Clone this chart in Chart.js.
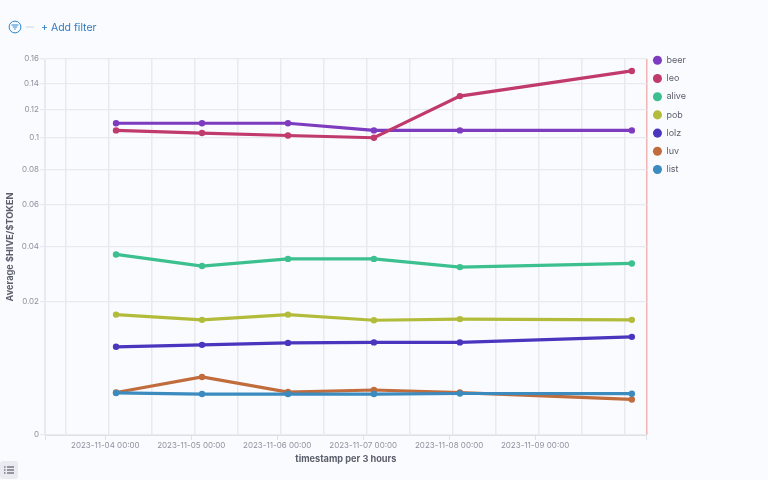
<!DOCTYPE html>
<html>
<head>
<meta charset="utf-8">
<script src="https://cdn.jsdelivr.net/npm/chart.js@4"></script>
<style>
  html, body { margin: 0; padding: 0; background: #fafbfe; }
  body { width: 768px; height: 480px; position: relative; overflow: hidden; font-family: Inter, sans-serif; }
  #wrap { position: absolute; left: 0; top: 0; width: 768px; height: 480px; }
  #filterIcon { position: absolute; left: 8px; top: 20px; }
  #dash { position: absolute; left: 26px; top: 26px; width: 8px; height: 2px; background: #e3e7ee; }
  #addFilter { position: absolute; left: 41px; top: 20px; font-size: 10.5px; line-height: 15px; color: #2d7cc0; }
  #listBtn { position: absolute; left: 0; top: 461px; width: 18px; height: 18px; background: #e9ebf0; border-radius: 3px; }
  #listBtn svg { position: absolute; left: 4px; top: 5px; }
</style>
</head>
<body>
<div id="wrap"><canvas id="myChart" width="768" height="480"></canvas></div>
<svg id="filterIcon" width="14" height="14" viewBox="0 0 14 14" fill="none" stroke="#2d86c9" stroke-width="1">
  <circle cx="7" cy="7" r="5.9"/>
  <path d="M3.5 5H10.5M4.8 7H9.2M6.2 9H7.8"/>
</svg>
<div id="dash"></div>
<div id="addFilter">+ Add filter</div>
<div id="listBtn">
  <svg width="10" height="8" viewBox="0 0 10 8" stroke="#3c4350" stroke-width="1">
    <path d="M0 1H1.5M3 1H10M0 4H1.5M3 4H10M0 7H1.5M3 7H10"/>
  </svg>
</div>
<script>
// one bucket per day, timestamps are UTC
var timestamps = ['2023-11-04T03:00Z', '2023-11-05T03:00Z', '2023-11-06T03:00Z', '2023-11-07T03:00Z', '2023-11-08T03:00Z', '2023-11-10T03:00Z'];
var seriesNames = ['beer', 'leo', 'alive', 'pob', 'lolz', 'luv', 'list'];
var seriesColors = ['#7d3bbf', '#c13a6e', '#3cc08f', '#b2bc3a', '#4a35bf', '#c06c3c', '#3b8bbf'];
var beer = [0.11, 0.11, 0.11, 0.105, 0.105, 0.105];
var leo = [0.105, 0.1032, 0.1015, 0.1, 0.13, 0.15];
var alive = [0.0369, 0.0323, 0.0351, 0.0351, 0.0319, 0.0333];
var pob = [0.0164, 0.015, 0.0164, 0.0149, 0.0152, 0.015];
var lolz = [0.0088, 0.0092, 0.0096, 0.0097, 0.0097, 0.0109];
var luv = [0.00204, 0.00381, 0.00209, 0.00229, 0.00204, 0.00143];
var list = [0.002, 0.0019, 0.0019, 0.0019, 0.00195, 0.00193];
var tickDays = ['2023-11-04', '2023-11-05', '2023-11-06', '2023-11-07', '2023-11-08', '2023-11-09'];
var yTicks = [0, 0.02, 0.04, 0.06, 0.08, 0.1, 0.12, 0.14, 0.16];

var xMin = Date.parse('2023-11-03T07:10Z');
var xMax = Date.parse('2023-11-10T07:10Z');
var firstGrid = Date.parse('2023-11-03T13:00Z');
var HALF_DAY = 12 * 3600 * 1000;

var tickColor = '#8d929e';
var gridColor = '#e8eaef';
var titleColor = '#5a5f6b';

// square root axis, the linear one only gets its pixel mapping replaced
class SqrtScale extends Chart.LinearScale {
    getPixelForValue(value) {
        return this.getPixelForDecimal(Math.sqrt(value / this.max));
    }
    getValueForPixel(pixel) {
        var d = this.getDecimalForPixel(pixel);
        return d * d * this.max;
    }
}
SqrtScale.id = 'sqrt';
SqrtScale.defaults = Chart.LinearScale.defaults;
Chart.register(SqrtScale);

Chart.defaults.font.family = 'Inter, sans-serif';
Chart.defaults.font.size = 8;

var allValues = [beer, leo, alive, pob, lolz, luv, list];
var datasets = [];
for (var i = 0; i < seriesNames.length; i++) {
    var points = [];
    for (var j = 0; j < timestamps.length; j++) {
        points.push({ x: Date.parse(timestamps[j]), y: allValues[i][j] });
    }
    datasets.push({
        label: seriesNames[i],
        data: points,
        borderColor: seriesColors[i],
        backgroundColor: seriesColors[i],
        borderWidth: 3.2,
        pointRadius: 3.2,
        pointBorderWidth: 0,
        tension: 0,
        order: -i,
        xAxisID: 'x',
        yAxisID: 'y'
    });
}

// legend rows need a wide padding, which would push the markers too far right
var legendNudge = {
    id: 'legendNudge',
    afterLayout: function(chart) {
        chart.legend.left -= 3;
    }
};

var ctx = document.getElementById('myChart');
var myChart = new Chart(ctx, {
    type: 'line',
    data: { datasets: datasets },
    plugins: [legendNudge],
    options: {
        responsive: false,
        animation: false,
        layout: { padding: { top: 46.6, left: 0, right: 69, bottom: 0 } },
        plugins: {
            tooltip: { enabled: false },
            legend: {
                position: 'right',
                align: 'start',
                labels: {
                    usePointStyle: true,
                    boxWidth: 9,
                    boxHeight: 6.4,
                    padding: 9.2,
                    color: '#5b606c',
                    font: { size: 9 },
                    sort: function(a, b) { return a.datasetIndex - b.datasetIndex; }
                }
            }
        },
        scales: {
            x: {
                type: 'linear',
                position: 'bottom',
                min: xMin,
                max: xMax,
                afterFit: function(scale) { scale.height = 45; },
                afterBuildTicks: function(scale) {
                    var t = [{ value: xMin }];
                    tickDays.forEach(function(d) { t.push({ value: Date.parse(d + 'T00:00Z') }); });
                    t.push({ value: xMax });
                    scale.ticks = t;
                },
                ticks: {
                    autoSkip: false,
                    maxRotation: 0,
                    color: tickColor,
                    padding: 1,
                    callback: function(value) {
                        var idx = tickDays.findIndex(function(d) { return Date.parse(d + 'T00:00Z') === value; });
                        return idx < 0 ? '' : tickDays[idx] + ' 00:00';
                    }
                },
                grid: { drawOnChartArea: false, drawTicks: true, tickLength: 5, color: '#dfe1e7' },
                border: { color: '#dfe1e7' },
                title: {
                    display: true,
                    text: 'timestamp per 3 hours',
                    color: titleColor,
                    font: { size: 9.2, weight: 'bold' },
                    padding: { top: 3, bottom: 15 }
                }
            },
            // only there for the half day grid and the red marker on the right edge
            xGrid: {
                type: 'linear',
                position: 'top',
                min: xMin,
                max: xMax,
                afterFit: function(scale) { scale.height = 12.4; },
                afterBuildTicks: function(scale) {
                    var t = [{ value: xMin }];
                    for (var v = firstGrid; v < xMax; v += HALF_DAY) t.push({ value: v });
                    t.push({ value: xMax });
                    scale.ticks = t;
                },
                ticks: { display: false, autoSkip: false },
                border: { display: false },
                grid: {
                    drawTicks: false,
                    lineWidth: 1.5,
                    color: function(c) { return c.tick && c.tick.value === xMax ? '#f0b4b4' : gridColor; }
                }
            },
            y: {
                type: 'sqrt',
                min: 0,
                max: 0.16,
                afterFit: function(scale) { scale.width = 45; },
                afterBuildTicks: function(scale) {
                    scale.ticks = yTicks.map(function(v) { return { value: v }; });
                },
                ticks: {
                    autoSkip: false,
                    color: tickColor,
                    padding: 1,
                    callback: function(value) { return String(value); }
                },
                grid: { color: gridColor, tickLength: 5, lineWidth: 1.2 },
                border: { color: gridColor },
                title: {
                    display: true,
                    text: 'Average $HIVE/$TOKEN',
                    color: titleColor,
                    font: { size: 9.2, weight: 'bold' },
                    padding: { top: 5, bottom: 0 }
                }
            }
        }
    }
});
</script>
</body>
</html>
